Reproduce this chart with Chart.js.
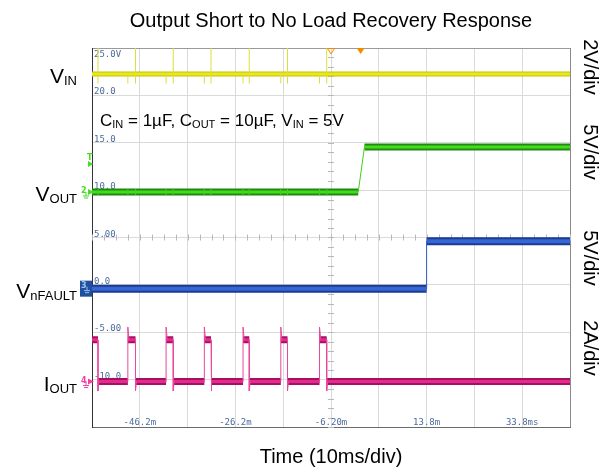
<!DOCTYPE html>
<html>
<head>
<meta charset="utf-8">
<script src="https://cdn.jsdelivr.net/npm/chart.js@4"></script>
<style>
  html, body { margin: 0; padding: 0; background: #fff; }
  #wrap { width: 612px; height: 473px; }
</style>
</head>
<body>
<div id="wrap"><canvas id="scope" width="612" height="473"></canvas></div>
<script>
// time axis in ms, 10 ms/div
const timeGrid = [-56.2, -46.2, -36.2, -26.2, -16.2, -6.2, 3.8, 13.8, 23.8, 33.8, 43.8];
const timeTickValues = [-46.2, -26.2, -6.2, 13.8, 33.8];
const timeTickLabels = ['-46.2m', '-26.2m', '-6.20m', '13.8m', '33.8ms'];
const divGrid = [0, 1, 2, 3, 4, 5, 6, 7, 8];
const divLabels = ['-10.0', '-5.00', '0.0', '5.00', '10.0', '15.0', '20.0', '25.0V']; // divs 1..8

// channels: VIN, VOUT, nFAULT, IOUT
const perDiv = [2, 5, 5, 2];
const groundDiv = [4.9, 4.96, 2.92, 0.96];
const rightLabels = ['2V/div', '5V/div', '5V/div', '2A/div'];
const rightLabelY = [67, 152, 258, 348];

// IOUT hiccup pulses (ms, A)
const ioutRise = [-48.7, -40.7, -32.7, -24.6, -16.7, -8.6];
const ioutFall = [-54.95, -47.1, -39.2, -31.3, -23.3, -15.3, -7.1];
const ioutHigh = 1.76;
const ioutPeak = 2.3;
const ioutDip = -0.4;

// VIN (V)
const vinLevel = 5.1;
const vinSpikeTop = 6.2;
const vinDip = 4.7;

// VOUT (V)
const voutLow = 0;
const voutHigh = 4.75;
const voutRamp = [-0.5, 0.8];
const voutGlitch = 0.35;

// nFAULT (V)
const faultLow = 0;
const faultHigh = 5.0;
const faultStep = 13.8;

const trigTime = 0;
const delayTime = -6.2;

const tMin = timeGrid[0];
const tMax = timeGrid[timeGrid.length - 1];

function band(segs) {
    const pts = [];
    segs.forEach(s => {
        pts.push({ x: s[0], y: s[2] }, { x: s[1], y: s[2] }, { x: s[1], y: null });
    });
    return pts;
}

// IOUT band + thin edges
const ioutEdges = ioutRise.map(t => ({ t, up: true })).concat(ioutFall.map(t => ({ t, up: false })))
    .sort((a, b) => a.t - b.t);
const ioutSegs = [];
let start = tMin, level = ioutHigh;
ioutEdges.forEach(e => {
    ioutSegs.push([start, e.t, level]);
    start = e.t;
    level = e.up ? ioutHigh : 0;
});
ioutSegs.push([start, tMax, level]);
const ioutThin = [];
ioutRise.forEach(t => ioutThin.push({ x: t, y: 0 }, { x: t, y: ioutPeak }, { x: t + 0.25, y: ioutHigh }, { x: t, y: null }));
ioutFall.forEach(t => ioutThin.push({ x: t, y: ioutHigh }, { x: t, y: ioutDip }, { x: t + 0.2, y: 0 }, { x: t, y: null }));

// VIN
const vinBand = band([[tMin, tMax, vinLevel]]);
const vinThin = [];
ioutFall.forEach(t => vinThin.push({ x: t, y: vinDip }, { x: t, y: vinSpikeTop }, { x: t, y: null }));
ioutRise.forEach(t => vinThin.push({ x: t, y: vinDip }, { x: t, y: vinLevel }, { x: t, y: null }));

// VOUT
const voutBand = band([[tMin, voutRamp[0], voutLow], [voutRamp[1], tMax, voutHigh]]);
const voutThin = [{ x: voutRamp[0], y: voutLow }, { x: voutRamp[1], y: voutHigh }, { x: voutRamp[1], y: null }];
ioutRise.concat(ioutFall).forEach(t => voutThin.push({ x: t, y: -voutGlitch }, { x: t, y: voutGlitch }, { x: t, y: null }));

// nFAULT
const faultBand = band([[tMin, faultStep, faultLow], [faultStep, tMax, faultHigh]]);
const faultThin = [{ x: faultStep, y: faultLow }, { x: faultStep, y: faultHigh }];

function ds(data, axis, color, width, order) {
    return {
        data, yAxisID: axis, borderColor: color, borderWidth: width, order,
        pointRadius: 0, tension: 0, spanGaps: false, fill: false
    };
}

function chAxis(i) {
    return { type: 'linear', display: false, min: -groundDiv[i] * perDiv[i], max: (8 - groundDiv[i]) * perDiv[i] };
}

function subText(ctx, parts, x, y, align) {
    // parts: [text, size, isSub]
    let w = 0;
    parts.forEach(p => { ctx.font = p[1] + 'px "Liberation Sans", Arial, sans-serif'; w += ctx.measureText(p[0]).width; });
    let cx = align === 'right' ? x - w : x;
    ctx.textAlign = 'left';
    ctx.textBaseline = 'alphabetic';
    parts.forEach(p => {
        ctx.font = p[1] + 'px "Liberation Sans", Arial, sans-serif';
        ctx.fillText(p[0], cx, y + (p[2] ? 2 : 0));
        cx += ctx.measureText(p[0]).width;
    });
}

const scopeDeco = {
    id: 'scopeDeco',
    beforeDatasetsDraw(chart) {
        const ctx = chart.ctx;
        const xs = chart.scales.x, ys = chart.scales.y;
        const cx = xs.getPixelForValue(delayTime), cy = ys.getPixelForValue(4);
        ctx.save();
        ctx.strokeStyle = '#b8b8b8';
        ctx.lineWidth = 1;
        ctx.beginPath();
        for (let d = 0; d <= 8; d += 0.2) {
            const py = Math.round(ys.getPixelForValue(d)) + 0.5;
            ctx.moveTo(cx - 3, py); ctx.lineTo(cx + 3, py);
        }
        for (let t = tMin; t <= tMax + 0.01; t += 2.5) {
            const px = Math.round(xs.getPixelForValue(t)) + 0.5;
            ctx.moveTo(px, cy - 3); ctx.lineTo(px, cy + 3);
        }
        ctx.stroke();
        // per-div scale labels
        ctx.fillStyle = '#4a6b9c';
        ctx.font = '9px "DejaVu Sans Mono", monospace';
        ctx.textAlign = 'left';
        ctx.textBaseline = 'alphabetic';
        divLabels.forEach((s, i) => {
            const py = ys.getPixelForValue(i + 1);
            ctx.fillText(s, xs.left + 2, i === 7 ? py + 9 : py - 1);
        });
        ctx.restore();
    },
    afterDatasetsDraw(chart) {
        const ctx = chart.ctx;
        const xs = chart.scales.x, ys = chart.scales.y;
        const area = chart.chartArea;
        ctx.save();
        // time labels
        ctx.fillStyle = '#4a6b9c';
        ctx.font = '9px "DejaVu Sans Mono", monospace';
        ctx.textAlign = 'center';
        timeTickValues.forEach((t, i) => ctx.fillText(timeTickLabels[i], xs.getPixelForValue(t), area.bottom - 2));

        // trigger / delay markers
        ctx.fillStyle = '#f08a00';
        ctx.strokeStyle = '#f08a00';
        let px = xs.getPixelForValue(trigTime);
        ctx.beginPath();
        ctx.moveTo(px - 4, area.top); ctx.lineTo(px + 4, area.top); ctx.lineTo(px, area.top + 6); ctx.closePath();
        ctx.fill();
        px = xs.getPixelForValue(delayTime);
        ctx.beginPath();
        ctx.moveTo(px - 3.5, area.top + 0.5); ctx.lineTo(px + 3.5, area.top + 0.5); ctx.lineTo(px, area.top + 6); ctx.closePath();
        ctx.stroke();

        // channel ground markers
        const gy2 = chart.scales.yVout.getPixelForValue(0);
        const gy3 = chart.scales.yFault.getPixelForValue(0);
        const gy4 = chart.scales.yIout.getPixelForValue(0);
        const lx = area.left;
        ctx.font = 'bold 8px "DejaVu Sans", sans-serif';
        ctx.textAlign = 'left';
        // T marker
        ctx.fillStyle = '#44dd22';
        ctx.fillText('T', lx - 5, gy2 - 32);
        ctx.beginPath(); ctx.moveTo(lx - 4, gy2 - 31); ctx.lineTo(lx + 1, gy2 - 28); ctx.lineTo(lx - 4, gy2 - 25); ctx.fill();
        // ch2
        ctx.fillText('2', lx - 11, gy2 + 1);
        ctx.beginPath(); ctx.moveTo(lx - 4, gy2 - 3); ctx.lineTo(lx + 2, gy2); ctx.lineTo(lx - 4, gy2 + 3); ctx.fill();
        ctx.strokeStyle = '#44dd22';
        ctx.beginPath();
        ctx.moveTo(lx - 6, gy2); ctx.lineTo(lx - 6, gy2 + 4);
        ctx.moveTo(lx - 9, gy2 + 4); ctx.lineTo(lx - 3, gy2 + 4);
        ctx.moveTo(lx - 8, gy2 + 6); ctx.lineTo(lx - 4, gy2 + 6);
        ctx.stroke();
        // ch3 box
        ctx.fillStyle = '#1f4f9e';
        ctx.fillRect(lx - 12, gy3 - 8, 12, 16);
        ctx.fillStyle = '#9fc0f0';
        ctx.fillText('3', lx - 11, gy3 - 1);
        ctx.strokeStyle = '#9fc0f0';
        ctx.beginPath();
        ctx.moveTo(lx - 5, gy3 - 2); ctx.lineTo(lx - 5, gy3 + 2);
        ctx.moveTo(lx - 8, gy3 + 2); ctx.lineTo(lx - 2, gy3 + 2);
        ctx.moveTo(lx - 7, gy3 + 4); ctx.lineTo(lx - 3, gy3 + 4);
        ctx.stroke();
        // ch4
        ctx.fillStyle = '#f040a8';
        ctx.strokeStyle = '#f040a8';
        ctx.fillText('4', lx - 11, gy4 + 1);
        ctx.beginPath(); ctx.moveTo(lx - 4, gy4 - 3); ctx.lineTo(lx + 2, gy4); ctx.lineTo(lx - 4, gy4 + 3); ctx.fill();
        ctx.beginPath();
        ctx.moveTo(lx - 6, gy4); ctx.lineTo(lx - 6, gy4 + 4);
        ctx.moveTo(lx - 9, gy4 + 4); ctx.lineTo(lx - 3, gy4 + 4);
        ctx.moveTo(lx - 8, gy4 + 6); ctx.lineTo(lx - 4, gy4 + 6);
        ctx.stroke();

        // condition note
        ctx.fillStyle = '#000';
        subText(ctx, [['C', 17], ['IN', 11, true], [' = 1µF, C', 17], ['OUT', 11, true], [' = 10µF, V', 17], ['IN', 11, true], [' = 5V', 17]],
            xs.left + 8, ys.getPixelForValue(6.35), 'left');

        // left signal names
        const ly = [chart.scales.yVin.getPixelForValue(vinLevel), gy2, gy3, gy4];
        const names = [['V', 'IN'], ['V', 'OUT'], ['V', 'nFAULT'], ['I', 'OUT']];
        names.forEach((n, i) => subText(ctx, [[n[0], 21], [n[1], 13, true]], 77, ly[i] + 9, 'right'));

        // right volts/div labels
        ctx.font = '20px "Liberation Sans", Arial, sans-serif';
        ctx.textAlign = 'center';
        ctx.textBaseline = 'middle';
        rightLabels.forEach((s, i) => {
            ctx.save();
            ctx.translate(590, rightLabelY[i]);
            ctx.rotate(Math.PI / 2);
            ctx.fillText(s, 0, 0);
            ctx.restore();
        });
        ctx.restore();
    }
};

new Chart(document.getElementById('scope').getContext('2d'), {
    type: 'line',
    data: {
        datasets: [
            ds(vinThin, 'yVin', '#dede3a', 1, 1),
            ds(vinBand, 'yVin', '#e8e81c', 3, 2),
            ds(vinBand, 'yVin', '#c2c20c', 5, 3),
            ds(voutThin, 'yVout', '#3fcf1a', 1, 1),
            ds(voutBand, 'yVout', '#44dc18', 3, 2),
            ds(voutBand, 'yVout', '#1f8a12', 7, 3),
            ds(faultThin, 'yFault', '#2f5cc4', 1, 1),
            ds(faultBand, 'yFault', '#3566d6', 4, 2),
            ds(faultBand, 'yFault', '#1c3b8e', 8, 3),
            ds(ioutThin, 'yIout', '#e8489e', 1, 1),
            ds(band(ioutSegs), 'yIout', '#e22a90', 3, 2),
            ds(band(ioutSegs), 'yIout', '#a6105f', 7, 3)
        ]
    },
    options: {
        responsive: false,
        animation: false,
        events: [],
        layout: { padding: { left: 92, right: 42, top: 9, bottom: 4 } },
        plugins: {
            legend: { display: false },
            tooltip: { enabled: false },
            title: {
                display: true,
                text: 'Output Short to No Load Recovery Response',
                color: '#000',
                font: { family: '"Liberation Sans", Arial, sans-serif', size: 20, weight: 'normal' },
                padding: { top: 0, bottom: 15 }
            }
        },
        scales: {
            x: {
                type: 'linear', min: tMin, max: tMax,
                afterBuildTicks: axis => { axis.ticks = timeGrid.map(v => ({ value: v })); },
                ticks: { display: false },
                grid: { drawTicks: false, color: c => (c.tick && c.tick.value === tMax ? '#8a8a8a' : '#dadada') },
                border: { display: true, color: '#6a6a6a' },
                title: {
                    display: true, text: 'Time (10ms/div)', color: '#000',
                    font: { family: '"Liberation Sans", Arial, sans-serif', size: 20 },
                    padding: { top: 18, bottom: 0 }
                }
            },
            y: {
                type: 'linear', min: 0, max: 8,
                afterBuildTicks: axis => { axis.ticks = divGrid.map(v => ({ value: v })); },
                ticks: { display: false },
                grid: { drawTicks: false, color: c => (c.tick && c.tick.value === 8 ? '#9a9a9a' : '#dadada') },
                border: { display: true, color: '#333' }
            },
            yVin: chAxis(0),
            yVout: chAxis(1),
            yFault: chAxis(2),
            yIout: chAxis(3)
        }
    },
    plugins: [scopeDeco]
});
</script>
</body>
</html>
